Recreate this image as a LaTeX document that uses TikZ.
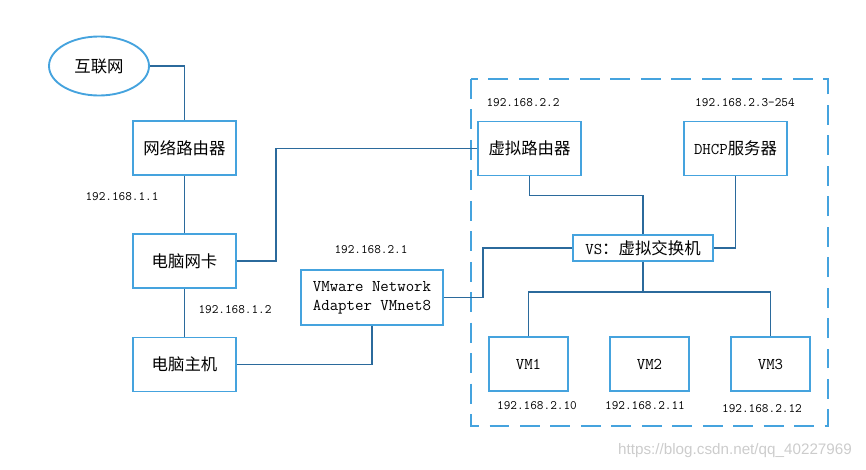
\documentclass[tikz,border=0pt]{standalone}
\usepackage{fontspec}
\usetikzlibrary{shapes.geometric}
\newfontfamily\cjk{Noto Sans CJK SC}
\newfontfamily\wmfont{Liberation Sans}
\newcommand{\zh}[1]{{\cjk #1}}
\definecolor{boxblue}{HTML}{45A3DE}
\definecolor{linkblue}{HTML}{2B6A9C}
\begin{document}
\begin{tikzpicture}[x=0.03cm, y=-0.03cm,
		font=\ttfamily\fontsize{14}{16}\selectfont,
		b/.style={draw=boxblue, line width=1.6pt, fill=white, minimum width=3.09cm, minimum height=1.62cm, align=center},
		vm/.style={b, minimum width=2.35cm},
		ip/.style={font=\ttfamily\fontsize{11}{13}\selectfont},
		l/.style={draw=linkblue, line width=1.5pt}]
	\useasboundingbox (0,0) rectangle (866,469);

	\draw[boxblue, line width=1.5pt, dash pattern=on 17pt off 9pt] (471,79) rectangle (828,426);

	\node[draw=boxblue, line width=1.6pt, ellipse, minimum width=3cm, minimum height=1.77cm] (inet) at (99,66) {\zh{互联网}};
	\node[b] (rt) at (184.5,148) {\zh{网络路由器}};
	\node[b] (nic) at (184.5,261) {\zh{电脑网卡}};
	\node[b] (host) at (184.5,364.5) {\zh{电脑主机}};
	\node[b, minimum width=4.26cm, minimum height=1.65cm, inner sep=2pt] (vmw) at (372,297.5) {VMware Network\\Adapter VMnet8};
	\node[b] (vrt) at (529.5,148.5) {\zh{虚拟路由器}};
	\node[b] (dhcp) at (735.5,148.5) {DHCP\zh{服务器}};
	\node[b, minimum width=4.2cm, minimum height=0.78cm, inner sep=1pt] (vs) at (643,248) {VS\zh{：虚拟交换机}};
	\node[vm] (vm1) at (528.5,364) {VM1};
	\node[vm] (vm2) at (649.5,364) {VM2};
	\node[vm] (vm3) at (770.5,364) {VM3};

	\node[ip] (ip11) at (122,197) {192.168.1.1};
	\node[ip] (ip12) at (235,310) {192.168.1.2};
	\node[ip] (ip21) at (371,250) {192.168.2.1};
	\node[ip] (ip22) at (523,103) {192.168.2.2};
	\node[ip] (ip23) at (745,103) {192.168.2.3-254};
	\node[ip] (ip210) at (537,406) {192.168.2.10};
	\node[ip] (ip211) at (645,406) {192.168.2.11};
	\node[ip] (ip212) at (762,409) {192.168.2.12};

	\draw[l] (inet.east) -| (rt.north);
	\draw[l] (rt) -- (nic);
	\draw[l] (nic) -- (host);
	\draw[l] (nic.east) -- ++(39,0) |- (vrt.west);
	\draw[l] (host.east) -| (vmw.south);
	\draw[l] (vmw.east) -- ++(39,0) |- (vs.west);
	\draw[l] (vrt.south) -- ++(0,19) -| (vs.north);
	\draw[l] (dhcp.south) |- (vs.east);
	\draw[l] (vs.south) -- ++(0,30) coordinate (hub);
	\draw[l] (vm1.north) |- (hub) -| (vm3.north);

	\node[font=\wmfont\fontsize{13}{15}\selectfont, text=gray!40] (wm) at (735,451) {https://blog.csdn.net/qq\_40227969};
\end{tikzpicture}
\end{document}
